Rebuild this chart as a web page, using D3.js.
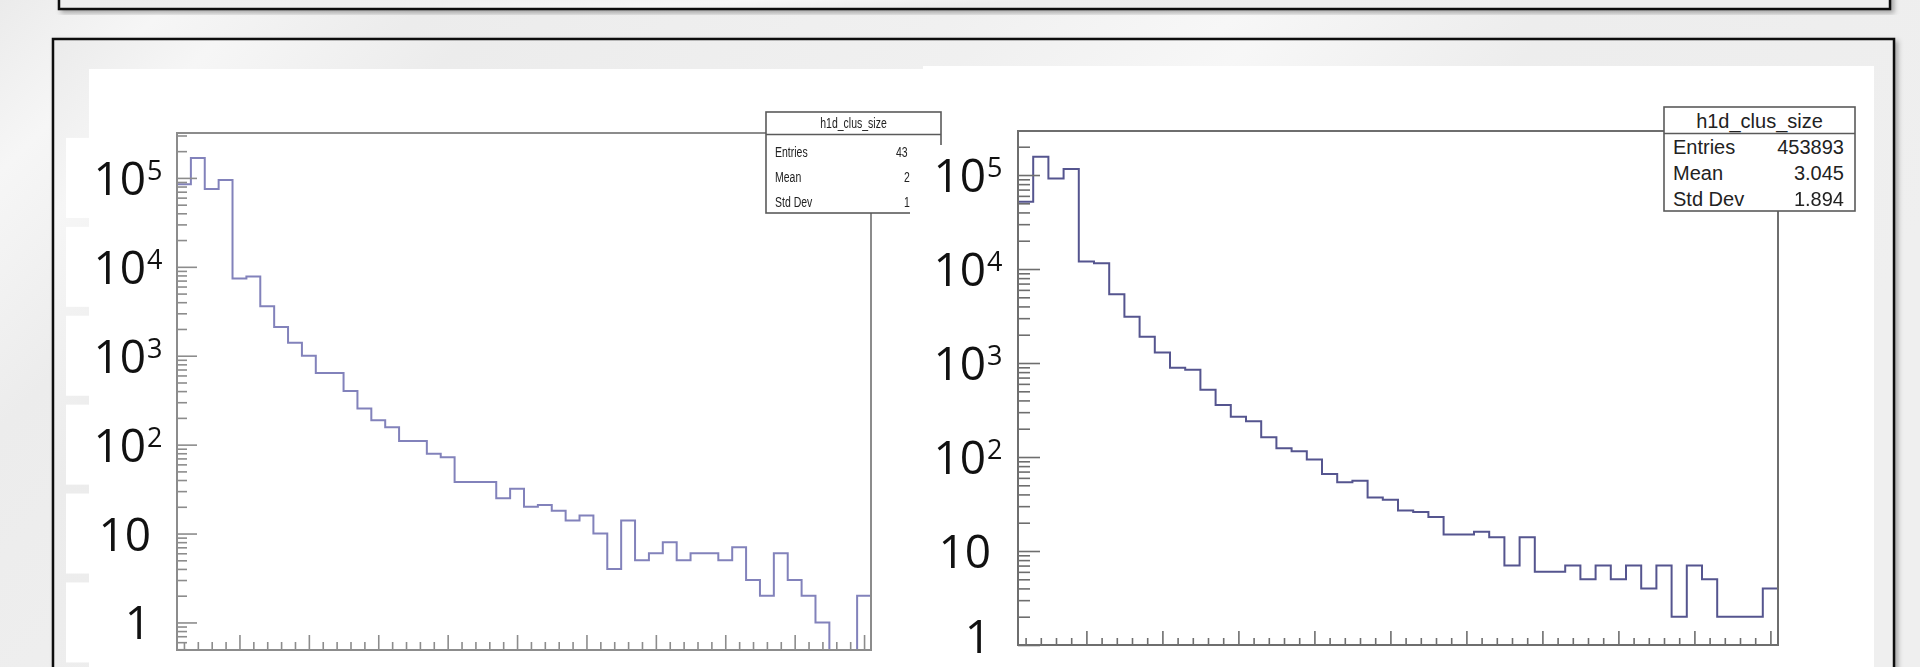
<!DOCTYPE html>
<html>
<head>
<meta charset="utf-8">
<script src="https://cdnjs.cloudflare.com/ajax/libs/d3/7.8.5/d3.min.js"></script>
<style>
  body { margin: 0; background: #efefef; overflow: hidden; }
  svg { display: block; }
  .lbl { font-family: "Open Sans", sans-serif; fill: #111; }
  .stat { font-family: "Liberation Sans", Arial, sans-serif; fill: #222; }
</style>
</head>
<body>
<svg id="chart" width="1920" height="667"></svg>
<script>
// cluster size bins 1..50 (bin i spans i-0.5 .. i+0.5)
var clusterSizes = d3.range(1, 51);

// left histogram, counts per bin
var leftCounts = [85000, 168000, 75000, 95000, 7400, 7800, 3600, 2100, 1400, 1000,
    640, 640, 400, 255, 188, 157, 110, 110, 79, 72,
    38, 38, 38, 25, 32, 20, 21, 18, 14, 16,
    10, 4, 14, 5, 6, 8, 5, 6, 6, 5,
    7, 3, 2, 6, 3, 2, 1, 0, 0, 2];

// right histogram
var rightCounts = [52000, 156000, 92000, 116000, 12000, 11500, 5400, 3100, 1900, 1290,
    890, 850, 520, 358, 268, 240, 162, 124, 115, 94,
    66, 54, 56, 37, 35, 27, 26, 23, 15, 15,
    16, 14, 7, 14, 6, 6, 7, 5, 7, 5,
    7, 4, 7, 2, 7, 5, 2, 2, 2, 4];

var decadeValues = [1, 10, 100, 1000, 10000, 100000];
var decadeBase = ["1", "10", "10", "10", "10", "10"];
var decadeExp = ["", "", "2", "3", "4", "5"];

var histName = "h1d_clus_size";
var statNames = ["Entries", "Mean", "Std Dev"];
var rightStatValues = ["453893", "3.045", "1.894"];
var leftStatValues = ["43", "2", "1"];   // only this much is visible, rest is covered

var svg = d3.select("#chart");
var defs = svg.append("defs");

// ---- slide background ----
var bg = defs.append("linearGradient").attr("id", "bg")
    .attr("x1", 0).attr("y1", 0).attr("x2", 1).attr("y2", 0.35);
[[0, "#ebebeb"], [0.08, "#f6f6f6"], [0.2, "#ececec"], [0.45, "#f0f0f0"],
 [0.58, "#f7f7f7"], [0.72, "#ededed"], [1, "#efefef"]].forEach(function (s) {
    bg.append("stop").attr("offset", s[0]).attr("stop-color", s[1]);
});

var shadow = defs.append("filter").attr("id", "shadow")
    .attr("x", "-5%").attr("y", "-5%").attr("width", "110%").attr("height", "120%");
shadow.append("feDropShadow").attr("dx", 3).attr("dy", 3)
    .attr("stdDeviation", 2.5).attr("flood-color", "#000").attr("flood-opacity", 0.3);

var soft = defs.append("filter").attr("id", "soft");
soft.append("feGaussianBlur").attr("stdDeviation", 0.55);

svg.append("rect").attr("width", 1920).attr("height", 667).attr("fill", "url(#bg)");

// top box (only its bottom shows) and main box
svg.append("rect").attr("x", 59).attr("y", -30).attr("width", 1831).attr("height", 39)
    .attr("fill", "url(#bg)").attr("stroke", "#111").attr("stroke-width", 2.5)
    .attr("filter", "url(#shadow)");
svg.append("rect").attr("x", 53).attr("y", 39).attr("width", 1841).attr("height", 700)
    .attr("fill", "url(#bg)").attr("stroke", "#111").attr("stroke-width", 2.5)
    .attr("filter", "url(#shadow)");

// pasted plot images (white)
svg.append("rect").attr("x", 923).attr("y", 66).attr("width", 951).attr("height", 620).attr("fill", "#fff");
svg.append("rect").attr("x", 89).attr("y", 69).attr("width", 856).attr("height", 620).attr("fill", "#fff");

// ---- panels ----
var panels = [
    {
        id: "l", counts: leftCounts, statValues: leftStatValues,
        frame: { x0: 177, x1: 871, y0: 133, y1: 650 },
        yDomain: [0.49, 3.2e5],
        color: "#8282bb", frameColor: "#8c8c8c", blur: true,
        tickMajor: 20, tickMinor: 10, xMajor: 15, xMinor: 8,
        stats: { x0: 766, x1: 941, y0: 112, y1: 213, sep: 134.5, title: 128, rows: [157, 182, 207],
                 font: 15, squeeze: 0.7 },
        labelRight: 146, labelFont: 46, labelFloor: 660
    },
    {
        id: "r", counts: rightCounts, statValues: rightStatValues,
        frame: { x0: 1018, x1: 1778, y0: 131, y1: 645 },
        yDomain: [1, 2.94e5],
        color: "#55558f", frameColor: "#6e6e6e", blur: false,
        tickMajor: 22, tickMinor: 12, xMajor: 14, xMinor: 7,
        stats: { x0: 1664, x1: 1855, y0: 107, y1: 211, sep: 133.5, title: 128, rows: [154, 180, 206],
                 font: 20, squeeze: 1 },
        labelRight: 986, labelFont: 46, labelFloor: 653
    }
];

function logTicks(domain) {
    var major = [], minor = [];
    for (var e = -1; e <= 6; e++) {
        var p = Math.pow(10, e);
        if (p >= domain[0] && p <= domain[1]) major.push(p);
        for (var k = 2; k <= 9; k++) {
            var v = k * p;
            if (v >= domain[0] && v <= domain[1]) minor.push(v);
        }
    }
    return { major: major, minor: minor };
}

panels.forEach(function (p) {
    var f = p.frame;
    var x = d3.scaleLinear().domain([0.5, 50.5]).range([f.x0, f.x1]);
    var y = d3.scaleLog().domain(p.yDomain).range([f.y1, f.y0]);

    var g = svg.append("g");
    if (p.blur) g.attr("filter", "url(#soft)");

    defs.append("clipPath").attr("id", "clip-" + p.id)
        .append("rect").attr("x", f.x0).attr("y", f.y0)
        .attr("width", f.x1 - f.x0).attr("height", f.y1 - f.y0);

    // histogram outline
    var ymin = p.yDomain[0];
    var pts = [{ x: 0.5, v: ymin }];
    clusterSizes.forEach(function (c, i) {
        pts.push({ x: c - 0.5, v: Math.max(p.counts[i], ymin) });
    });
    pts.push({ x: 50.5, v: Math.max(p.counts[49], ymin) });
    pts.push({ x: 50.5, v: ymin });

    var line = d3.line()
        .x(function (d) { return x(d.x); })
        .y(function (d) { return y(d.v); })
        .curve(d3.curveStepAfter);

    g.append("path").datum(pts)
        .attr("d", line)
        .attr("fill", "none")
        .attr("stroke", p.color)
        .attr("stroke-width", 2)
        .attr("clip-path", "url(#clip-" + p.id + ")");

    // axes, ROOT style: ticks pointing inward
    var lt = logTicks(p.yDomain);
    var axes = g.append("g").attr("color", p.frameColor);

    axes.append("g").attr("transform", "translate(" + f.x0 + ",0)")
        .call(d3.axisLeft(y).tickValues(lt.minor).tickSize(-p.tickMinor).tickSizeOuter(0).tickFormat(""));
    axes.append("g").attr("transform", "translate(" + f.x0 + ",0)")
        .call(d3.axisLeft(y).tickValues(lt.major).tickSize(-p.tickMajor).tickSizeOuter(0).tickFormat(""));

    axes.append("g").attr("transform", "translate(0," + f.y1 + ")")
        .call(d3.axisBottom(x).tickValues(clusterSizes.filter(function (c) { return c % 5 !== 0; }))
            .tickSize(-p.xMinor).tickSizeOuter(0).tickFormat(""));
    axes.append("g").attr("transform", "translate(0," + f.y1 + ")")
        .call(d3.axisBottom(x).tickValues(clusterSizes.filter(function (c) { return c % 5 === 0; }))
            .tickSize(-p.xMajor).tickSizeOuter(0).tickFormat(""));

    axes.selectAll(".domain").remove();
    axes.selectAll(".tick line").attr("stroke-width", 1.6);

    // frame
    g.append("rect")
        .attr("x", f.x0).attr("y", f.y0)
        .attr("width", f.x1 - f.x0).attr("height", f.y1 - f.y0)
        .attr("fill", "none").attr("stroke", p.frameColor).attr("stroke-width", 2);

    // stats box
    var s = p.stats;
    g.append("rect").attr("x", s.x0).attr("y", s.y0)
        .attr("width", s.x1 - s.x0).attr("height", s.y1 - s.y0)
        .attr("fill", "#fff").attr("stroke", "#5a5a5a").attr("stroke-width", 1.6);
    g.append("line").attr("x1", s.x0).attr("x2", s.x1).attr("y1", s.sep).attr("y2", s.sep)
        .attr("stroke", "#5a5a5a").attr("stroke-width", 1.6);

    var cx = (s.x0 + s.x1) / 2;
    g.append("text").attr("class", "stat")
        .attr("transform", "translate(" + cx + "," + s.title + ") scale(" + s.squeeze + ",1)")
        .attr("text-anchor", "middle").attr("font-size", s.font)
        .text(histName);

    statNames.forEach(function (n, i) {
        g.append("text").attr("class", "stat")
            .attr("transform", "translate(" + (s.x0 + 9) + "," + s.rows[i] + ") scale(" + s.squeeze + ",1)")
            .attr("font-size", s.font)
            .text(n);
        if (p.id === "r") {
            g.append("text").attr("class", "stat")
                .attr("x", s.x1 - 11).attr("y", s.rows[i])
                .attr("text-anchor", "end").attr("font-size", s.font)
                .text(p.statValues[i]);
        } else {
            g.append("text").attr("class", "stat")
                .attr("transform", "translate(" + (s.x1 - (i === 0 ? 45 : 37)) + "," + s.rows[i] + ") scale(" + s.squeeze + ",1)")
                .attr("font-size", s.font)
                .text(p.statValues[i]);
        }
    });

    p.x = x;
    p.y = y;
});

// ---- overlaid slide labels (white text boxes covering ROOT's labels) ----
var L = panels[0], R = panels[1];

decadeValues.forEach(function (v) {
    var cy = L.y(v);
    svg.append("rect").attr("x", 66).attr("y", cy - 40).attr("width", 106).attr("height", 80)
        .attr("fill", "#fff");
});
svg.append("rect").attr("x", 910).attr("y", 145).attr("width", 102).attr("height", 540).attr("fill", "#fff");

[L, R].forEach(function (p) {
    decadeValues.forEach(function (v, i) {
        var base = Math.min(p.y(v) + 17, p.labelFloor);
        var plain = decadeExp[i] === "";
        svg.append("text").attr("class", "lbl")
            .attr("x", p.labelRight + (plain ? 5 : 0)).attr("y", base)
            .attr("text-anchor", "end")
            .attr("font-size", p.labelFont)
            .text(decadeBase[i]);
        if (!plain) {
            svg.append("text").attr("class", "lbl")
                .attr("x", p.labelRight + 1).attr("y", base - 15)
                .attr("font-size", 27)
                .text(decadeExp[i]);
        }
    });
});
</script>
</body>
</html>
